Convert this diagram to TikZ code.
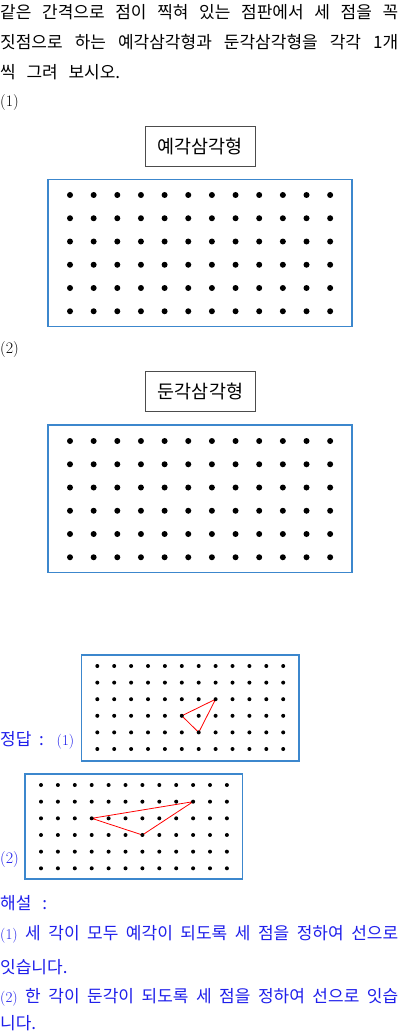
\documentclass[tikz,border=0pt]{standalone}
\usepackage{fontspec}
\newfontfamily\kr{Noto Sans CJK KR}
\definecolor{boxblue}{RGB}{60,135,205}
\definecolor{ansblue}{RGB}{30,30,235}
\tikzset{
  line/.style={anchor=west, inner sep=0pt, font=\kr\fontsize{17}{20}\selectfont},
  num/.style={anchor=west, inner sep=0pt, font=\fontsize{16}{18}\selectfont},
  board/.style={draw=boxblue, line width=1.2pt},
  namebox/.style={draw=black!70, line width=0.6pt, minimum width=110pt, minimum height=40pt, inner sep=0pt, font=\kr\fontsize{18.5}{20}\selectfont},
  tri/.style={red, line width=0.8pt, line join=round}
}
\newcommand{\smallnum}[1]{{\normalfont\fontsize{15}{17}\selectfont(#1)}}

\begin{document}
\begin{tikzpicture}[x=1pt,y=-1pt]
\useasboundingbox[fill=white] (0,0) rectangle (400,1032);

% question
\node[line] (q1) at (0,12) {\makebox[398pt][s]{같은 간격으로 점이 찍혀 있는 점판에서 세 점을 꼭}};
\node[line] (q2) at (0,42) {\makebox[398pt][s]{짓점으로 하는 예각삼각형과 둔각삼각형을 각각 1개}};
\node[line] (q3) at (0,72) {\makebox[120pt][s]{씩 그려 보시오.}};

% (1)
\node[num] (n1) at (0,103) {(1)};
\node[namebox] (acute) at (200,146.5) {예각삼각형};
\draw[board] (48,179.5) rectangle (352,326.5);
\foreach \i in {0,...,11}
	\foreach \j in {0,...,5}
		\fill (70+\i*23.65, 195+\j*23.25) circle (3pt);

% (2)
\node[num] (n2) at (0,350) {(2)};
\node[namebox] (obtuse) at (200.5,391.7) {둔각삼각형};
\draw[board] (48,425) rectangle (352,572.5);
\foreach \i in {0,...,11}
	\foreach \j in {0,...,5}
		\fill (70+\i*23.65, 441+\j*23.25) circle (3pt);

% answer
\node[line, text=ansblue] (ans) at (0,740) {\makebox[74pt][s]{정답 : \smallnum{1}}};
\draw[board] (81.5,655) rectangle (299,761);
\foreach \i in {0,...,11}
	\foreach \j in {0,...,5}
		\coordinate (p\i-\j) at (97.3+\i*16.9, 666+\j*16.6);
\draw[tri] (p5-3) -- (p7-2) -- (p6-4) -- cycle;
\foreach \i in {0,...,11}
	\foreach \j in {0,...,5}
		\fill (p\i-\j) circle (2pt);

\node[num, text=ansblue] (a2) at (0,859) {(2)};
\draw[board] (25,774) rectangle (242.3,879);
\foreach \i in {0,...,11}
	\foreach \j in {0,...,5}
		\coordinate (r\i-\j) at (41+\i*16.9, 785+\j*16.66);
\draw[tri] (r3-2) -- (r9-1) -- (r6-3) -- cycle;
\foreach \i in {0,...,11}
	\foreach \j in {0,...,5}
		\fill (r\i-\j) circle (2pt);

% explanation
\node[line, text=ansblue] (sol) at (0,903) {\makebox[47pt][s]{해설 :}};
\node[line, text=ansblue] (s1) at (0,934) {\makebox[398pt][s]{\smallnum{1} 세 각이 모두 예각이 되도록 세 점을 정하여 선으로}};
\node[line, text=ansblue] (s1b) at (0,967) {잇습니다.};
\node[line, text=ansblue] (s2) at (0,997) {\makebox[398pt][s]{\smallnum{2} 한 각이 둔각이 되도록 세 점을 정하여 선으로 잇습}};
\node[line, text=ansblue] (s2b) at (0,1023) {니다.};
\end{tikzpicture}
\end{document}
